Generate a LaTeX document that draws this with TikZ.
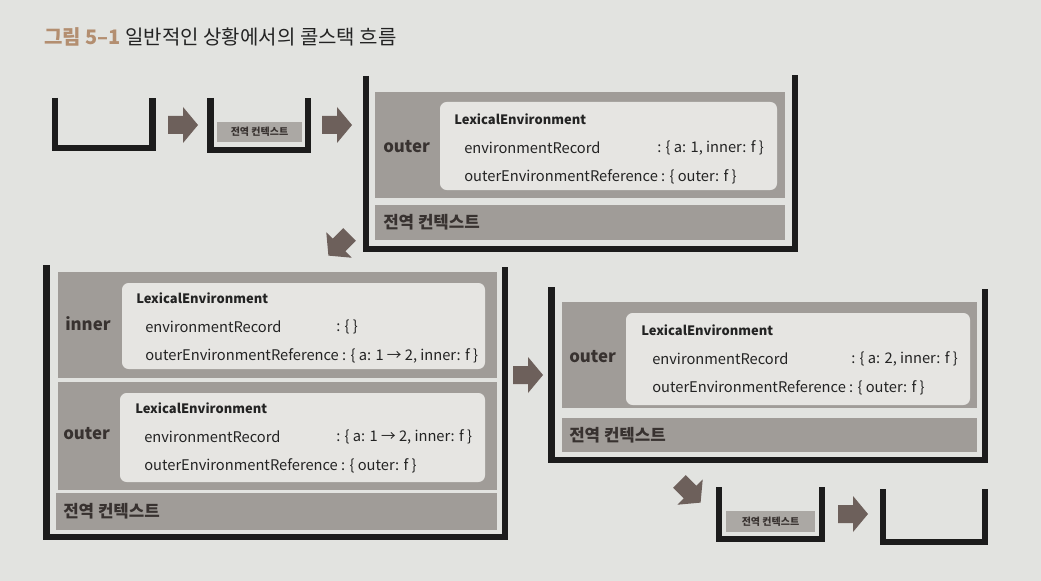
\documentclass[tikz,border=0pt]{standalone}
\usepackage{fontspec}
\setmainfont{Noto Sans CJK KR}
\definecolor{bgcol}{HTML}{E2E3E0}
\definecolor{boxgray}{HTML}{A09C98}
\definecolor{boxwhite}{HTML}{E6E5E2}
\definecolor{arrowcol}{HTML}{6D605B}
\definecolor{barcol}{HTML}{1C1C1C}
\definecolor{txtcol}{HTML}{232323}
\definecolor{lblcol}{HTML}{383230}
\definecolor{titlecol}{HTML}{B38E70}
\definecolor{smallbox}{HTML}{ABA8A4}
\tikzset{
  stackbar/.style={draw=barcol, line width=5pt, line join=miter, line cap=butt},
  graybox/.style={fill=boxgray},
  whitebox/.style={fill=boxwhite, rounded corners=5pt},
  lbl/.style={anchor=west, inner sep=0pt, font=\bfseries\fontsize{12.6}{15}\selectfont, text=lblcol},
  envhead/.style={anchor=west, inner sep=0pt, font=\bfseries\fontsize{9.7}{12}\selectfont, text=txtcol},
  envtxt/.style={anchor=west, inner sep=0pt, font=\fontsize{11}{13}\selectfont, text=txtcol},
  glob/.style={anchor=west, inner sep=0pt, font=\bfseries\fontsize{12.6}{14}\selectfont, text=lblcol},
  smallglob/.style={inner sep=0pt, font=\bfseries\fontsize{7.5}{9}\selectfont, text=lblcol},
  barrow/.pic={\fill[arrowcol] (-15,-9) -- (0,-9) -- (0,-18) -- (15,0) -- (0,18) -- (0,9) -- (-15,9) -- cycle;}
}
\begin{document}
\begin{tikzpicture}[x=0.75pt,y=-0.75pt]
\fill[bgcol] (0,0) rectangle (1041,581);
\useasboundingbox (0,0) rectangle (1041,581);

% title
\node[anchor=west, inner sep=0pt, font=\fontsize{15}{18}\selectfont, text=txtcol] (title) at (44,37)
  {\textcolor{titlecol}{\bfseries 그림 5–1} 일반적인 상황에서의 콜스택 흐름};

% stack 1 (empty)
\draw[stackbar] (55,98) -- (55,148) -- (152.5,148) -- (152.5,98);
\pic (a1) at (183,125) {barrow};

% stack 2
\fill[smallbox] (217,122) rectangle (302,142);
\node[smallglob] (g2) at (259.5,132) {전역 컨텍스트};
\draw[stackbar] (210.5,98) -- (210.5,150) -- (308,150) -- (308,98);
\pic (a2) at (337,125) {barrow};

% stack 3
\fill[graybox] (375,92) rectangle (785,198);
\fill[whitebox] (440,102) rectangle (777,190);
\node[lbl] (s3lbl) at (383,147) {outer};
\node[envhead] (s3le) at (454,119) {LexicalEnvironment};
\node[envtxt] (s3er) at (464,148) {environmentRecord};
\node[envtxt] (s3erv) at (657,148) {: \{ a: 1, inner: f \}};
\node[envtxt] (s3oer) at (464,177) {outerEnvironmentReference : \{ outer: f \}};
\fill[graybox] (375,205) rectangle (785,240);
\node[glob] (s3g) at (383,222) {전역 컨텍스트};
\draw[stackbar] (366,76) -- (366,249) -- (795,249) -- (795,75);
\pic[rotate=225] (a3) at (339,245) {barrow};

% stack 4
\fill[graybox] (58,272) rectangle (497,378);
\fill[whitebox] (122,283) rectangle (485,369);
\node[lbl] (s4ilbl) at (65,324) {inner};
\node[envhead] (s4ile) at (136,298) {LexicalEnvironment};
\node[envtxt] (s4ier) at (145,327) {environmentRecord};
\node[envtxt] (s4ierv) at (336,327) {: \{ \}};
\node[envtxt] (s4ioer) at (145,356) {outerEnvironmentReference : \{ a: 1 → 2, inner: f \}};
\fill[graybox] (58,382) rectangle (497,490);
\fill[whitebox] (120,393) rectangle (485,482);
\node[lbl] (s4olbl) at (63,434) {outer};
\node[envhead] (s4ole) at (135,408) {LexicalEnvironment};
\node[envtxt] (s4oer) at (144,437) {environmentRecord};
\node[envtxt] (s4oerv) at (336,437) {: \{ a: 1 → 2, inner: f \}};
\node[envtxt] (s4ooer) at (144,466) {outerEnvironmentReference : \{ outer: f \}};
\fill[graybox] (56,493) rectangle (497,530);
\node[glob] (s4g) at (63,511) {전역 컨텍스트};
\draw[stackbar] (46.5,265) -- (46.5,537) -- (505,537) -- (505,267);
\pic (a4) at (528,375) {barrow};

% stack 5
\fill[graybox] (562,302) rectangle (977,408);
\fill[whitebox] (626,313) rectangle (970,405);
\node[lbl] (s5lbl) at (569,357) {outer};
\node[envhead] (s5le) at (641,330) {LexicalEnvironment};
\node[envtxt] (s5er) at (652,359) {environmentRecord};
\node[envtxt] (s5erv) at (851,359) {: \{ a: 2, inner: f \}};
\node[envtxt] (s5oer) at (652,388) {outerEnvironmentReference : \{ outer: f \}};
\fill[graybox] (562,418) rectangle (977,452);
\node[glob] (s5g) at (569,435) {전역 컨텍스트};
\draw[stackbar] (551.5,287) -- (551.5,460) -- (985,460) -- (985,289);
\pic[rotate=-45] (a5) at (690,492) {barrow};

% stack 6
\fill[smallbox] (726,511) rectangle (815,532);
\node[smallglob] (g6) at (770.5,521.5) {전역 컨텍스트};
\draw[stackbar] (719,487) -- (719,539) -- (822,539) -- (822,487);
\pic (a6) at (853,514) {barrow};

% stack 7
\draw[stackbar] (883,489) -- (883,542) -- (985,542) -- (985,489);
\end{tikzpicture}
\end{document}
